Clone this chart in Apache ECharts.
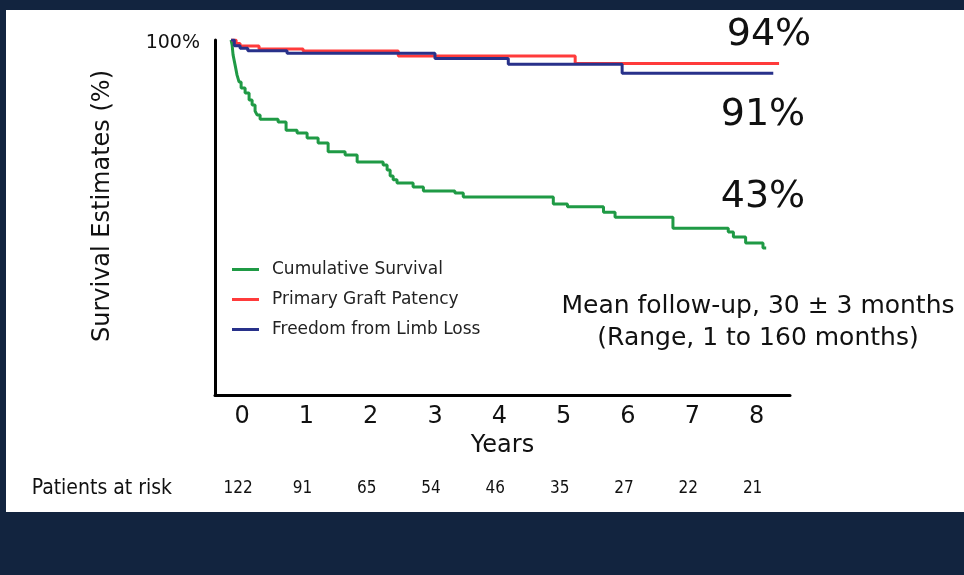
<!DOCTYPE html>
<html>
<head>
<meta charset="UTF-8">
<title>Survival Estimates</title>
<script src="https://cdn.jsdelivr.net/npm/echarts@6/dist/echarts.min.js"></script>
<style>
body{margin:0;background:#12243f;}
#main{width:964px;height:575px;}
</style>
</head>
<body>
<div id="main"></div>
<script>
// tick labels and patients at risk
var years = [0, 1, 2, 3, 4, 5, 6, 7, 8];
var atRisk = [122, 91, 65, 54, 46, 35, 27, 22, 21];

// Cumulative Survival (years, %)
var survT = [0, 0.016, 0.031, 0.062, 0.093, 0.124, 0.156, 0.218, 0.28, 0.327, 0.373, 0.404, 0.451, 0.731, 0.855, 1.026, 1.182, 1.353, 1.509, 1.773, 1.96, 2.364, 2.426, 2.473, 2.52, 2.58, 2.83, 2.99, 3.48, 3.61, 5.01, 5.23, 5.79, 5.97, 6.87, 7.73, 7.81, 8.0, 8.27, 8.32];
var survV = [100, 98.6, 95.8, 93.0, 90.1, 88.2, 86.5, 85.1, 83.1, 81.7, 80.0, 78.9, 77.7, 76.9, 74.6, 73.8, 72.4, 71.0, 68.5, 67.6, 65.6, 64.8, 63.4, 61.7, 60.6, 59.7, 58.6, 57.5, 56.9, 55.8, 53.8, 53.0, 51.5, 50.1, 47.0, 45.9, 44.5, 42.8, 41.4, 41.4];

// Primary Graft Patency
var patT = [0, 0.078, 0.14, 0.435, 1.12, 2.6, 5.35, 8.52];
var patV = [100, 99.0, 98.3, 97.5, 96.9, 95.5, 93.4, 93.4];

// Freedom from Limb Loss
var limbT = [0, 0.05, 0.14, 0.26, 0.87, 3.17, 4.31, 6.08, 8.43];
var limbV = [100, 98.4, 97.7, 97.0, 96.3, 94.8, 93.2, 90.6, 90.6];

function pairs(t, v) {
	var out = [];
	for (var i = 0; i < t.length; i++) out.push([t[i], v[i]]);
	return out;
}

var font = 'DejaVu Sans';
var narrow = '"Liberation Sans Narrow", "DejaVu Sans Condensed", sans-serif';
var navy = '#12243f';

var chart = echarts.init(document.getElementById('main'));

var option = {
	backgroundColor: '#fff',
	animation: false,
	textStyle: { fontFamily: font },
	grid: { left: 215, right: 174, top: 40, bottom: 180 },
	legend: {
		orient: 'vertical',
		left: 232,
		top: 261,
		padding: 0,
		icon: 'rect',
		itemWidth: 27,
		itemHeight: 3,
		itemGap: 13,
		textStyle: { fontSize: 17, color: '#222', fontFamily: font, padding: [0, 0, 0, 8] },
		data: ['Cumulative Survival', 'Primary Graft Patency', 'Freedom from Limb Loss']
	},
	xAxis: [{
		type: 'value',
		min: -0.25,
		max: 8.69,
		axisLine: { onZero: false, lineStyle: { color: '#000', width: 3 } },
		axisTick: { show: false },
		splitLine: { show: false },
		axisLabel: {
			customValues: years,
			fontSize: 24,
			color: '#111',
			margin: 10,
			padding: [0, 0, 0, 22]
		},
		name: 'Years',
		nameLocation: 'middle',
		nameGap: 38,
		nameTextStyle: { fontSize: 24, color: '#111' }
	}, {
		type: 'value',
		min: -0.25,
		max: 8.69,
		position: 'bottom',
		offset: 94,
		axisLine: { show: false },
		axisTick: { show: false },
		splitLine: { show: false },
		axisLabel: {
			customValues: years,
			formatter: function (v) { return String(atRisk[years.indexOf(v)]); },
			fontSize: 17,
			fontFamily: narrow,
			color: '#111',
			margin: 0,
			verticalAlign: 'middle',
			padding: [0, 0, 0, 14]
		}
	}],
	yAxis: {
		type: 'value',
		min: 0,
		max: 100,
		interval: 100,
		axisLine: { onZero: false, lineStyle: { color: '#000', width: 3 } },
		axisTick: { show: false },
		splitLine: { show: false },
		axisLabel: {
			fontSize: 19,
			color: '#111',
			margin: 15,
			verticalAlign: 'top',
			lineHeight: 6,
			formatter: function (v) { return v === 100 ? '100%' : ''; }
		}
	},
	series: [{
		name: 'Cumulative Survival',
		type: 'line',
		step: 'end',
		showSymbol: false,
		color: '#1f9a45',
		lineStyle: { width: 3 },
		data: pairs(survT, survV)
	}, {
		name: 'Primary Graft Patency',
		type: 'line',
		step: 'end',
		showSymbol: false,
		color: '#ff3b3b',
		lineStyle: { width: 3 },
		data: pairs(patT, patV)
	}, {
		name: 'Freedom from Limb Loss',
		type: 'line',
		step: 'end',
		showSymbol: false,
		color: '#28318a',
		lineStyle: { width: 3 },
		data: pairs(limbT, limbV)
	}],
	graphic: [
		{ type: 'rect', shape: { x: 0, y: 0, width: 964, height: 10 }, style: { fill: navy } },
		{ type: 'rect', shape: { x: 0, y: 512, width: 964, height: 63 }, style: { fill: navy } },
		{ type: 'rect', shape: { x: 0, y: 0, width: 6, height: 575 }, style: { fill: navy } },
		{ type: 'text', x: 103, y: 206, rotation: Math.PI / 2,
			style: { text: 'Survival Estimates (%)', fontSize: 24, fontFamily: font, fill: '#111', align: 'center', verticalAlign: 'middle' } },
		{ type: 'text', x: 172, y: 489,
			style: { text: 'Patients at risk', fontSize: 21, fontFamily: narrow, fill: '#111', align: 'right', verticalAlign: 'middle' } },
		{ type: 'text', x: 769, y: 35, style: { text: '94%', fontSize: 38, fontFamily: font, fill: '#111', align: 'center', verticalAlign: 'middle' } },
		{ type: 'text', x: 763, y: 115, style: { text: '91%', fontSize: 38, fontFamily: font, fill: '#111', align: 'center', verticalAlign: 'middle' } },
		{ type: 'text', x: 763, y: 197, style: { text: '43%', fontSize: 38, fontFamily: font, fill: '#111', align: 'center', verticalAlign: 'middle' } },
		{ type: 'text', x: 758, y: 306, style: { text: 'Mean follow-up, 30 \u00b1 3 months', fontSize: 25, fontFamily: font, fill: '#111', align: 'center', verticalAlign: 'middle' } },
		{ type: 'text', x: 758, y: 338, style: { text: '(Range, 1 to 160 months)', fontSize: 25, fontFamily: font, fill: '#111', align: 'center', verticalAlign: 'middle' } }
	]
};

chart.setOption(option);
</script>
</body>
</html>
